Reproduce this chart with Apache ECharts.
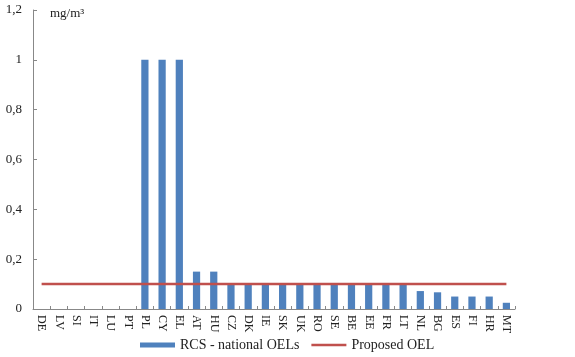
<!DOCTYPE html>
<html><head><meta charset="utf-8">
<script src="https://cdn.jsdelivr.net/npm/echarts@6/dist/echarts.min.js"></script>
<style>html,body{margin:0;padding:0;background:#fff}#c{width:575px;height:357px}</style>
</head><body><div id="c"></div>
<script>
const categories = ["DE","LV","SI","IT","LU","PT","PL","CY","EL","AT","HU","CZ","DK","IE","SK","UK","RO","SE","BE","EE","FR","LT","NL","BG","ES","FI","HR","MT"];
const nationalOEL = [0,0,0,0,0,0,1,1,1,0.15,0.15,0.1,0.1,0.1,0.1,0.1,0.1,0.1,0.1,0.1,0.1,0.1,0.072,0.067,0.05,0.05,0.05,0.025];
const proposedOEL = categories.map(() => 0.1);
const yTickLabels = {"0":"0","0.2":"0,2","0.4":"0,4","0.6":"0,6","0.8":"0,8","1":"1","1.2":"1,2"};
const unitLabel = "mg/m³";

const chart = echarts.init(document.getElementById('c'), null, {renderer:'canvas'});
const font = '"Liberation Serif", "Times New Roman", serif';
chart.setOption({
  animation:false,
  textStyle:{fontFamily:font},
  grid:{left:33,right:60,top:10,bottom:48,containLabel:false},
  legend:{
    bottom:0,left:135,itemGap:12,
    textStyle:{fontFamily:font,fontSize:14,color:'#222'},
    data:[
      {name:'RCS - national OELs',icon:'rect',itemStyle:{color:'#4f81bd'}},
      {name:'Proposed OEL',icon:'path://M0,0 L40,0 L40,3 L0,3 Z',itemStyle:{color:'#c0504d'}}
    ],
    itemWidth:35,itemHeight:5
  },
  graphic:[{type:'text',left:50,top:7,style:{text:unitLabel,font:'13px "Liberation Serif", serif',fill:'#222'}}],
  xAxis:{
    type:'category',data:categories,
    axisLine:{lineStyle:{color:'#888',width:1}},
    axisTick:{show:true,inside:true,length:3,lineStyle:{color:'#888'}},
    axisLabel:{show:true,rotate:-90,fontFamily:font,fontSize:12,color:'#222',interval:0,margin:6}
  },
  yAxis:{
    type:'value',min:0,max:1.2,interval:0.2,
    axisLine:{show:true,lineStyle:{color:'#888',width:1}},
    axisTick:{show:true,inside:true,length:4,lineStyle:{color:'#888'}},
    splitLine:{show:false},
    axisLabel:{fontFamily:font,fontSize:13,color:'#222',margin:11,
      formatter:v=>yTickLabels[String(Math.round(v*10)/10)] ?? String(v).replace('.',',')}
  },
  series:[
    {name:'RCS - national OELs',type:'bar',data:nationalOEL,barWidth:'42%',itemStyle:{color:'#4f81bd'}},
    {name:'Proposed OEL',type:'line',data:proposedOEL,symbol:'none',lineStyle:{color:'#c0504d',width:2.5},itemStyle:{color:'#c0504d'}}
  ]
});
</script></body></html>
